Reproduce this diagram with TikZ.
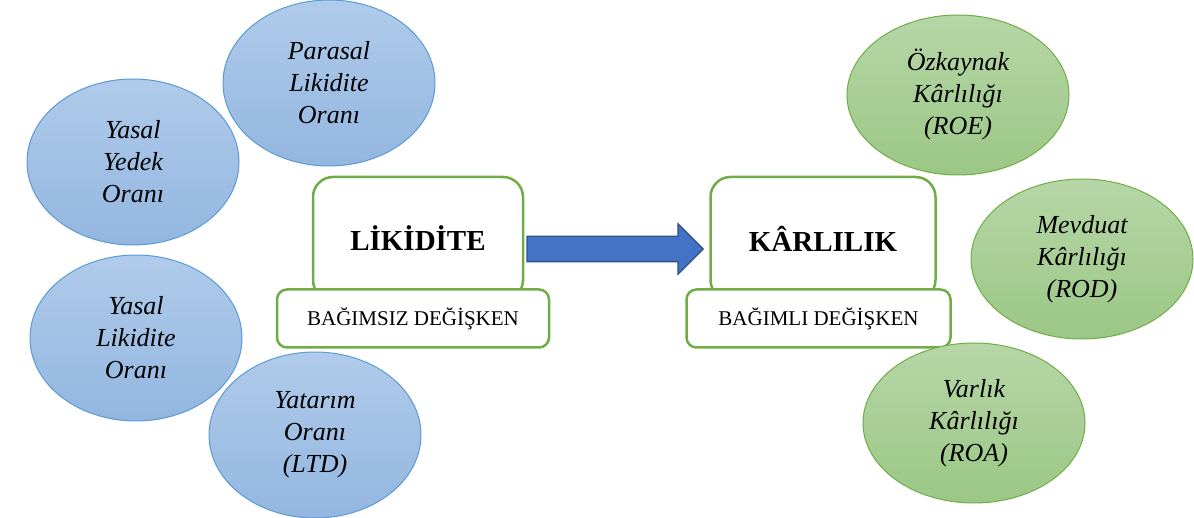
\documentclass[tikz,border=0pt]{standalone}
\usepackage{fontspec}
\setmainfont{Liberation Serif}
\usetikzlibrary{positioning, shapes.geometric, shapes.arrows, calc}
\definecolor{ovalblue}{HTML}{5B9BD5}
\definecolor{ovalbluetop}{HTML}{B0CBEA}
\definecolor{ovalbluebot}{HTML}{93B6E0}
\definecolor{ovalgreen}{HTML}{70AD47}
\definecolor{ovalgreentop}{HTML}{B6D6A7}
\definecolor{ovalgreenbot}{HTML}{9BC785}
\definecolor{boxgreen}{HTML}{70AD47}
\definecolor{arrowblue}{HTML}{4472C4}
\definecolor{arrowedge}{HTML}{2F528F}
\tikzset{
  oval/.style={ellipse, align=center, inner sep=0pt, line width=1pt,
               font=\fontsize{26}{32}\selectfont\itshape},
  ovalb/.style={oval, draw=ovalblue, top color=ovalbluetop, bottom color=ovalbluebot,
                minimum width=212, minimum height=166},
  ovalg/.style={oval, draw=ovalgreen, top color=ovalgreentop, bottom color=ovalgreenbot,
                minimum width=222, minimum height=160},
  headbox/.style={rectangle, rounded corners=20pt, draw=boxgreen, fill=white, line width=2.5pt,
                  minimum height=123, inner sep=0pt, font=\fontsize{29}{34}\selectfont\bfseries},
  subbox/.style={rectangle, rounded corners=10pt, draw=boxgreen, fill=white, line width=2.5pt,
                 minimum height=58, inner sep=0pt, font=\fontsize{21}{25}\selectfont},
  bigarrow/.style={single arrow, draw=arrowedge, fill=arrowblue, line width=1.3pt,
                   inner xsep=0pt, inner ysep=12pt, minimum height=176,
                   single arrow head extend=12.5pt},
}

\begin{document}
\begin{tikzpicture}[x=1pt, y=-1pt]
  \useasboundingbox (0,0) rectangle (1194,518);
  % bagimsiz degiskenler
  \node[ovalb] (par) at (329,83)  {Parasal\\Likidite\\Oranı};
  \node[ovalb] (yed) at (133,162) {Yasal\\Yedek\\Oranı};
  \node[ovalb] (yli) at (136,338) {Yasal\\Likidite\\Oranı};
  \node[ovalb] (yat) at (315,435) {Yatarım\\Oranı\\(LTD)};
  % ana kutular
  \node[headbox, minimum width=210] (lik) at (418,238.5) {LİKİDİTE};
  \node[subbox, minimum width=272, below=-13pt of lik, xshift=-5pt] (likv) {BAĞIMSIZ DEĞİŞKEN};
  \node[headbox, minimum width=225, right=185pt of lik] (kar) {KÂRLILIK};
  \node[subbox, minimum width=264, below=-13pt of kar, xshift=-4.5pt] (karv) {BAĞIMLI DEĞİŞKEN};
  \node[bigarrow] (ok) at ($(lik.east)!.5!(kar.west)+(-8,10.5)$) {};
  % bagimli degiskenler
  \node[ovalg] (ozk) at (958,95)  {Özkaynak\\Kârlılığı\\(ROE)};
  \node[ovalg] (mev) at (1082,259) {Mevduat\\Kârlılığı\\(ROD)};
  \node[ovalg] (var) at (974,423) {Varlık\\Kârlılığı\\(ROA)};
\end{tikzpicture}
\end{document}
